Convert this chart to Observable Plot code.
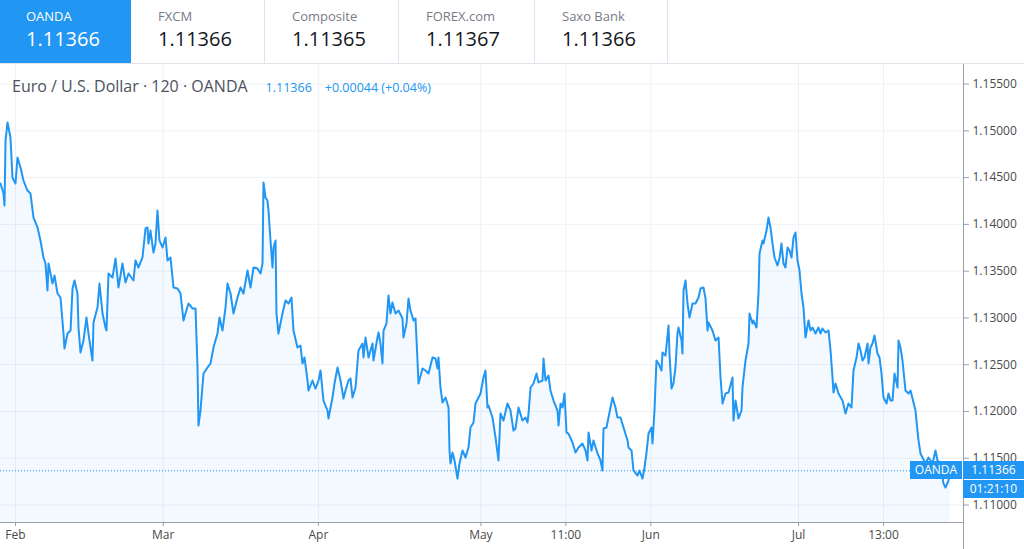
<!DOCTYPE html>
<html><head><meta charset="utf-8">
<script src="https://cdn.jsdelivr.net/npm/d3@7"></script>
<script src="https://cdn.jsdelivr.net/npm/@observablehq/plot@0.6"></script>
<style>
body{margin:0;background:#fff;font-family:"Open Sans",sans-serif;}
#wrap{position:relative;width:1024px;height:549px;overflow:hidden;background:#fff;}
#tabs{position:absolute;left:0;top:0;height:64px;width:1024px;border-bottom:1px solid #e0e3eb;box-sizing:border-box;display:flex;}
.tab{height:63px;border-right:1px solid #e0e3eb;box-sizing:border-box;padding-left:27px;}
.tab .lb{font-size:13px;color:#787b86;margin-top:7px;line-height:18px;}
.tab .vl{font-size:20px;color:#131722;line-height:26px;margin-top:1px;}
.tab.active{background:#2196f3;border-right:none;}
.tab.active .lb,.tab.active .vl{color:#fff;}
#chart{position:absolute;left:0;top:64px;}
#title{position:absolute;left:12px;top:75px;font-size:16px;line-height:22px;color:#4c525e;white-space:nowrap;}
#title .q{color:#2196f3;font-size:12.5px;margin-left:18px;}
#title .c{color:#2196f3;font-size:12.5px;margin-left:13px;}
#yline{position:absolute;left:963px;top:64px;width:1px;height:485px;background:#9b9ea6;}
.box{position:absolute;background:#2196f3;color:#fff;font-size:12px;line-height:18px;height:18px;text-align:center;}
</style>
</head><body>
<div id="wrap">
  <div id="tabs"></div>
  <div id="chart"></div>
  <div id="yline"></div>
  <div id="title"></div>
</div>
<script>
const brokers = ["OANDA", "FXCM", "Composite", "FOREX.com", "Saxo Bank"];
const brokerQuotes = ["1.11366", "1.11366", "1.11365", "1.11367", "1.11366"];
const symbolTitle = "Euro / U.S. Dollar \u00b7 120 \u00b7 OANDA";
const lastPrice = 1.11366;
const changeText = "+0.00044 (+0.04%)";
const countdown = "01:21:10";
const tickDays = [0, 20, 41, 63, 74.5, 86, 106, 117.5];
const tickLabels = ["Feb", "Mar", "Apr", "May", "11:00", "Jun", "Jul", "13:00"];
const priceTicks = [1.110, 1.115, 1.120, 1.125, 1.130, 1.135, 1.140, 1.145, 1.150, 1.155];
const dayDomain = [-2.03, 128.33];
const priceDomain = [1.10813, 1.15709];
// [trading day since Feb 1, close]
const eurusd = [[-2.03,1.14437],[-1.62,1.14330],[-1.49,1.14202],[-1.35,1.14897],[-1.08,1.15089],[-0.68,1.14929],[-0.41,1.14501],[0,1.14437],[0.27,1.14715],[0.68,1.14608],[1.08,1.14469],[1.62,1.14362],[2.03,1.14330],[2.44,1.14073],[2.98,1.13967],[3.38,1.13828],[3.79,1.13646],[4.06,1.13582],[4.33,1.13293],[4.47,1.13582],[5.01,1.13368],[5.28,1.13453],[5.69,1.13261],[6.09,1.13218],[6.50,1.12833],[6.63,1.12673],[7.04,1.12833],[7.45,1.12865],[7.72,1.13314],[7.99,1.13400],[8.39,1.13261],[8.53,1.12897],[8.80,1.12630],[9.20,1.12758],[9.61,1.13004],[9.88,1.12833],[10.42,1.12545],[10.56,1.12951],[11.10,1.13111],[11.37,1.13368],[11.78,1.13047],[12.18,1.12897],[12.32,1.12865],[12.59,1.13475],[13.13,1.13432],[13.54,1.13635],[13.94,1.13325],[14.48,1.13582],[14.89,1.13379],[15.30,1.13475],[15.97,1.13400],[16.24,1.13614],[16.65,1.13539],[17.19,1.13646],[17.60,1.13956],[17.87,1.13967],[18.00,1.13795],[18.27,1.13934],[18.68,1.13699],[18.95,1.13795],[19.22,1.14148],[19.49,1.13828],[19.90,1.13753],[20.31,1.13860],[20.58,1.13614],[20.98,1.13646],[21.39,1.13325],[21.93,1.13314],[22.34,1.13261],[22.74,1.12972],[23.01,1.13047],[23.42,1.13154],[23.96,1.13101],[24.37,1.13101],[24.64,1.12470],[24.77,1.11850],[25.04,1.12010],[25.45,1.12406],[25.99,1.12470],[26.40,1.12513],[26.80,1.12684],[27.34,1.12833],[27.61,1.13004],[28.02,1.12865],[28.43,1.13111],[28.70,1.13368],[29.11,1.13261],[29.51,1.13047],[30.05,1.13218],[30.46,1.13325],[30.86,1.13261],[31.41,1.13507],[31.81,1.13325],[32.22,1.13539],[32.76,1.13528],[33.17,1.13475],[33.44,1.13582],[33.57,1.14448],[33.84,1.14287],[34.11,1.14255],[34.25,1.14148],[34.52,1.13828],[34.79,1.13539],[34.93,1.13753],[35.20,1.13828],[35.33,1.13047],[35.60,1.12833],[36.14,1.13047],[36.55,1.13186],[36.96,1.13154],[37.36,1.13218],[37.63,1.12865],[38.17,1.12684],
[38.58,1.12705],[38.85,1.12513],[39.12,1.12577],[39.53,1.12331],[39.66,1.12224],[40.20,1.12331],[40.61,1.12245],[41.02,1.12331],[41.29,1.12438],[41.56,1.12224],[41.69,1.12117],[42.24,1.12010],[42.37,1.11925],[42.91,1.12149],[43.18,1.12299],[43.59,1.12470],[44.00,1.12331],[44.40,1.12138],[44.67,1.12224],[45.08,1.12331],[45.35,1.12352],[45.62,1.12149],[46.03,1.12256],[46.43,1.12652],[46.97,1.12726],[47.11,1.12577],[47.38,1.12791],[47.79,1.12577],[48.33,1.12726],[48.46,1.12545],[49.00,1.12791],[49.14,1.12844],[49.41,1.12726],[49.68,1.12513],[49.82,1.12865],[50.22,1.12940],[50.49,1.13240],[50.76,1.13047],[51.03,1.13165],[51.44,1.13047],[51.85,1.13079],[52.39,1.12994],[52.52,1.12791],[52.93,1.12940],[53.20,1.13207],[53.47,1.13079],[53.88,1.12972],[54.15,1.12994],[54.42,1.12545],[54.55,1.12299],[55.10,1.12459],[55.50,1.12438],[55.91,1.12406],[56.45,1.12577],[56.86,1.12566],[57.13,1.12459],[57.26,1.12577],[57.53,1.12256],[57.80,1.12096],[58.21,1.12149],[58.62,1.12042],[58.75,1.11583],[58.89,1.11444],[59.16,1.11561],[59.43,1.11476],[59.83,1.11283],[60.10,1.11444],[60.51,1.11583],[60.92,1.11508],[61.32,1.11615],[61.59,1.11828],[62.00,1.11882],[62.27,1.12085],[62.68,1.12149],[62.95,1.12192],[63.35,1.12363],[63.62,1.12438],[63.89,1.12042],[64.03,1.12064],[64.57,1.11935],[64.98,1.11722],[65.38,1.11476],[65.65,1.11978],[66.06,1.11903],[66.60,1.12085],[67.01,1.12010],[67.41,1.11796],
[67.68,1.11818],[68.09,1.12042],[68.63,1.11903],[69.04,1.11935],[69.31,1.11882],[69.45,1.11978],[69.72,1.12256],[70.12,1.12299],[70.53,1.12406],[70.80,1.12310],[71.34,1.12331],[71.48,1.12566],[71.75,1.12331],[72.15,1.12384],[72.42,1.12224],[72.83,1.12117],[73.37,1.12010],[73.51,1.11850],[73.78,1.12085],[74.05,1.12042],[74.32,1.12192],[74.59,1.11775],[74.86,1.11764],[75.40,1.11668],[75.81,1.11561],[76.21,1.11615],[76.75,1.11657],[77.16,1.11583],[77.43,1.11476],[77.57,1.11775],[77.97,1.11583],[78.24,1.11690],[78.79,1.11551],[79.19,1.11476],[79.46,1.11369],[79.60,1.11818],[80.00,1.11828],[80.27,1.11935],[80.82,1.12149],[81.22,1.12042],[81.49,1.11935],[81.90,1.11935],[82.31,1.11828],[82.85,1.11690],[82.98,1.11615],[83.39,1.11583],[83.66,1.11369],[84.20,1.11315],[84.47,1.11369],[84.88,1.11283],[85.15,1.11401],[85.42,1.11561],[85.69,1.11764],[86.10,1.11828],[86.23,1.11657],[86.50,1.12010],[86.77,1.12545],[87.04,1.12513],[87.45,1.12438],[87.58,1.12630],[87.99,1.12598],[88.40,1.12919],[88.53,1.12620],[88.80,1.12245],[89.07,1.12299],[89.34,1.12470],[89.61,1.12833],[89.75,1.12897],[90.16,1.12758],[90.29,1.12620],[90.43,1.13293],[90.70,1.13400],[90.97,1.13154],[91.24,1.13004],[91.65,1.13154],[92.05,1.13154],[92.46,1.13218],[92.73,1.13314],[93.13,1.13325],[93.41,1.13207],[93.68,1.12865],[93.81,1.12951],[94.35,1.12865],[94.76,1.12758],[95.17,1.12791],[95.44,1.12363],[95.71,1.12085],[96.11,1.12192],[96.52,1.12203],[97.06,1.12363],[97.19,1.11903],[97.47,1.12117],
[97.87,1.11925],[98.28,1.12010],[98.41,1.12256],[98.82,1.12545],[99.23,1.12726],[99.36,1.13047],[99.77,1.12940],[99.90,1.12972],[100.31,1.12897],[100.58,1.13261],[100.72,1.13689],[101.12,1.13828],[101.26,1.13795],[101.66,1.13934],[101.93,1.14073],[102.20,1.13967],[102.48,1.13795],[102.75,1.13646],[103.15,1.13560],[103.42,1.13635],[103.69,1.13795],[103.96,1.13582],[104.23,1.13539],[104.51,1.13753],[104.78,1.13721],[105.05,1.13646],[105.32,1.13860],[105.59,1.13913],[105.86,1.13614],[106.13,1.13507],[106.40,1.13261],[106.67,1.13111],[106.94,1.12791],[107.35,1.12972],[107.62,1.12865],[107.89,1.12897],[108.30,1.12833],[108.70,1.12897],[108.97,1.12833],[109.24,1.12887],[109.65,1.12844],[110.06,1.12865],[110.33,1.12652],[110.60,1.12363],[110.73,1.12203],[111.00,1.12299],[111.41,1.12192],[111.95,1.12117],[112.36,1.11978],[112.76,1.12085],[113.17,1.12042],[113.44,1.12438],[113.85,1.12577],[114.12,1.12726],[114.39,1.12652],[114.66,1.12545],[114.93,1.12577],[115.34,1.12726],[115.47,1.12513],[115.74,1.12684],[116.01,1.12726],[116.28,1.12812],[116.69,1.12620],[116.96,1.12577],[117.23,1.12406],[117.50,1.12149],[117.91,1.12085],[118.18,1.12192],[118.45,1.12117],[118.72,1.12117],[118.99,1.12406],[119.40,1.12256],[119.53,1.12758],[119.80,1.12684],[120.07,1.12545],[120.48,1.12224],[120.89,1.12192],[121.16,1.12224],[121.43,1.12138],[121.83,1.12010],[122.10,1.11796],[122.24,1.11690],[122.51,1.11551],[122.78,1.11508],[123.19,1.11444],[123.59,1.11508],[124.14,1.11444],[124.54,1.11583],[124.81,1.11476],[125.22,1.11444],[125.62,1.11230],[125.89,1.11187],[126.30,1.11262],[126.57,1.11366]];

const data = eurusd.map(([day, price]) => ({day, price}));
const labelOf = new Map(tickDays.map((d, i) => [d, tickLabels[i]]));

// tabs
const tabs = document.getElementById("tabs");
const tabWidths = [131, 134, 134, 136, 133];
brokers.forEach((b, i) => {
  const t = document.createElement("div");
  t.className = "tab" + (i === 0 ? " active" : "");
  t.style.width = tabWidths[i] + "px";
  if (i === 0) t.style.paddingLeft = "26px";
  t.innerHTML = `<div class="lb">${b}</div><div class="vl">${brokerQuotes[i]}</div>`;
  tabs.appendChild(t);
});

document.getElementById("title").innerHTML =
  `<span>${symbolTitle}</span><span class="q">${lastPrice.toFixed(5)}</span><span class="c">${changeText}</span>`;

const gridColor = "#eef1f6";
const axisColor = "#9b9ea6";
const chart = Plot.plot({
  width: 1024,
  height: 485,
  marginTop: 0,
  marginBottom: 27,
  marginLeft: 0,
  marginRight: 61,
  style: {fontFamily: "Open Sans", fontSize: "12px", color: "#4a4a4a", background: "transparent", overflow: "visible"},
  x: {domain: dayDomain},
  y: {domain: priceDomain},
  marks: [
    Plot.gridY({ticks: priceTicks, stroke: gridColor, strokeOpacity: 1}),
    Plot.gridX({ticks: tickDays, stroke: gridColor, strokeOpacity: 1}),
    Plot.areaY(data, {x: "day", y1: priceDomain[0], y2: "price", fill: "#2196f3", fillOpacity: 0.055}),
    Plot.ruleY([lastPrice], {stroke: "#2196f3", strokeDasharray: "1,2", strokeWidth: 1}),
    Plot.lineY(data, {x: "day", y: "price", stroke: "#2196f3", strokeWidth: 2, strokeLinejoin: "round"}),
    Plot.frame({anchor: "bottom", stroke: axisColor}),
    Plot.axisX({ticks: tickDays, tickFormat: d => labelOf.get(d), tickSize: 4, tickPadding: 4, stroke: axisColor, fill: "#4a4a4a", label: null}),
    Plot.axisY({anchor: "right", ticks: priceTicks, tickFormat: d => d.toFixed(5), tickSize: 5, tickPadding: 4, stroke: axisColor, fill: "#4a4a4a", label: null})
  ]
});
document.getElementById("chart").appendChild(chart);

// last-price badges positioned with the y scale
const yScale = chart.scale("y");
const py = 64 + yScale.apply(lastPrice);
const wrap = document.getElementById("wrap");
function badge(text, left, top, width) {
  const b = document.createElement("div");
  b.className = "box";
  b.style.left = left + "px";
  b.style.top = top + "px";
  b.style.width = width + "px";
  b.textContent = text;
  wrap.appendChild(b);
}
badge(brokers[0], 910, py - 9, 52);
badge(lastPrice.toFixed(5), 963, py - 9, 61);
badge(countdown, 963, py + 10, 61);
</script>
</body></html>
